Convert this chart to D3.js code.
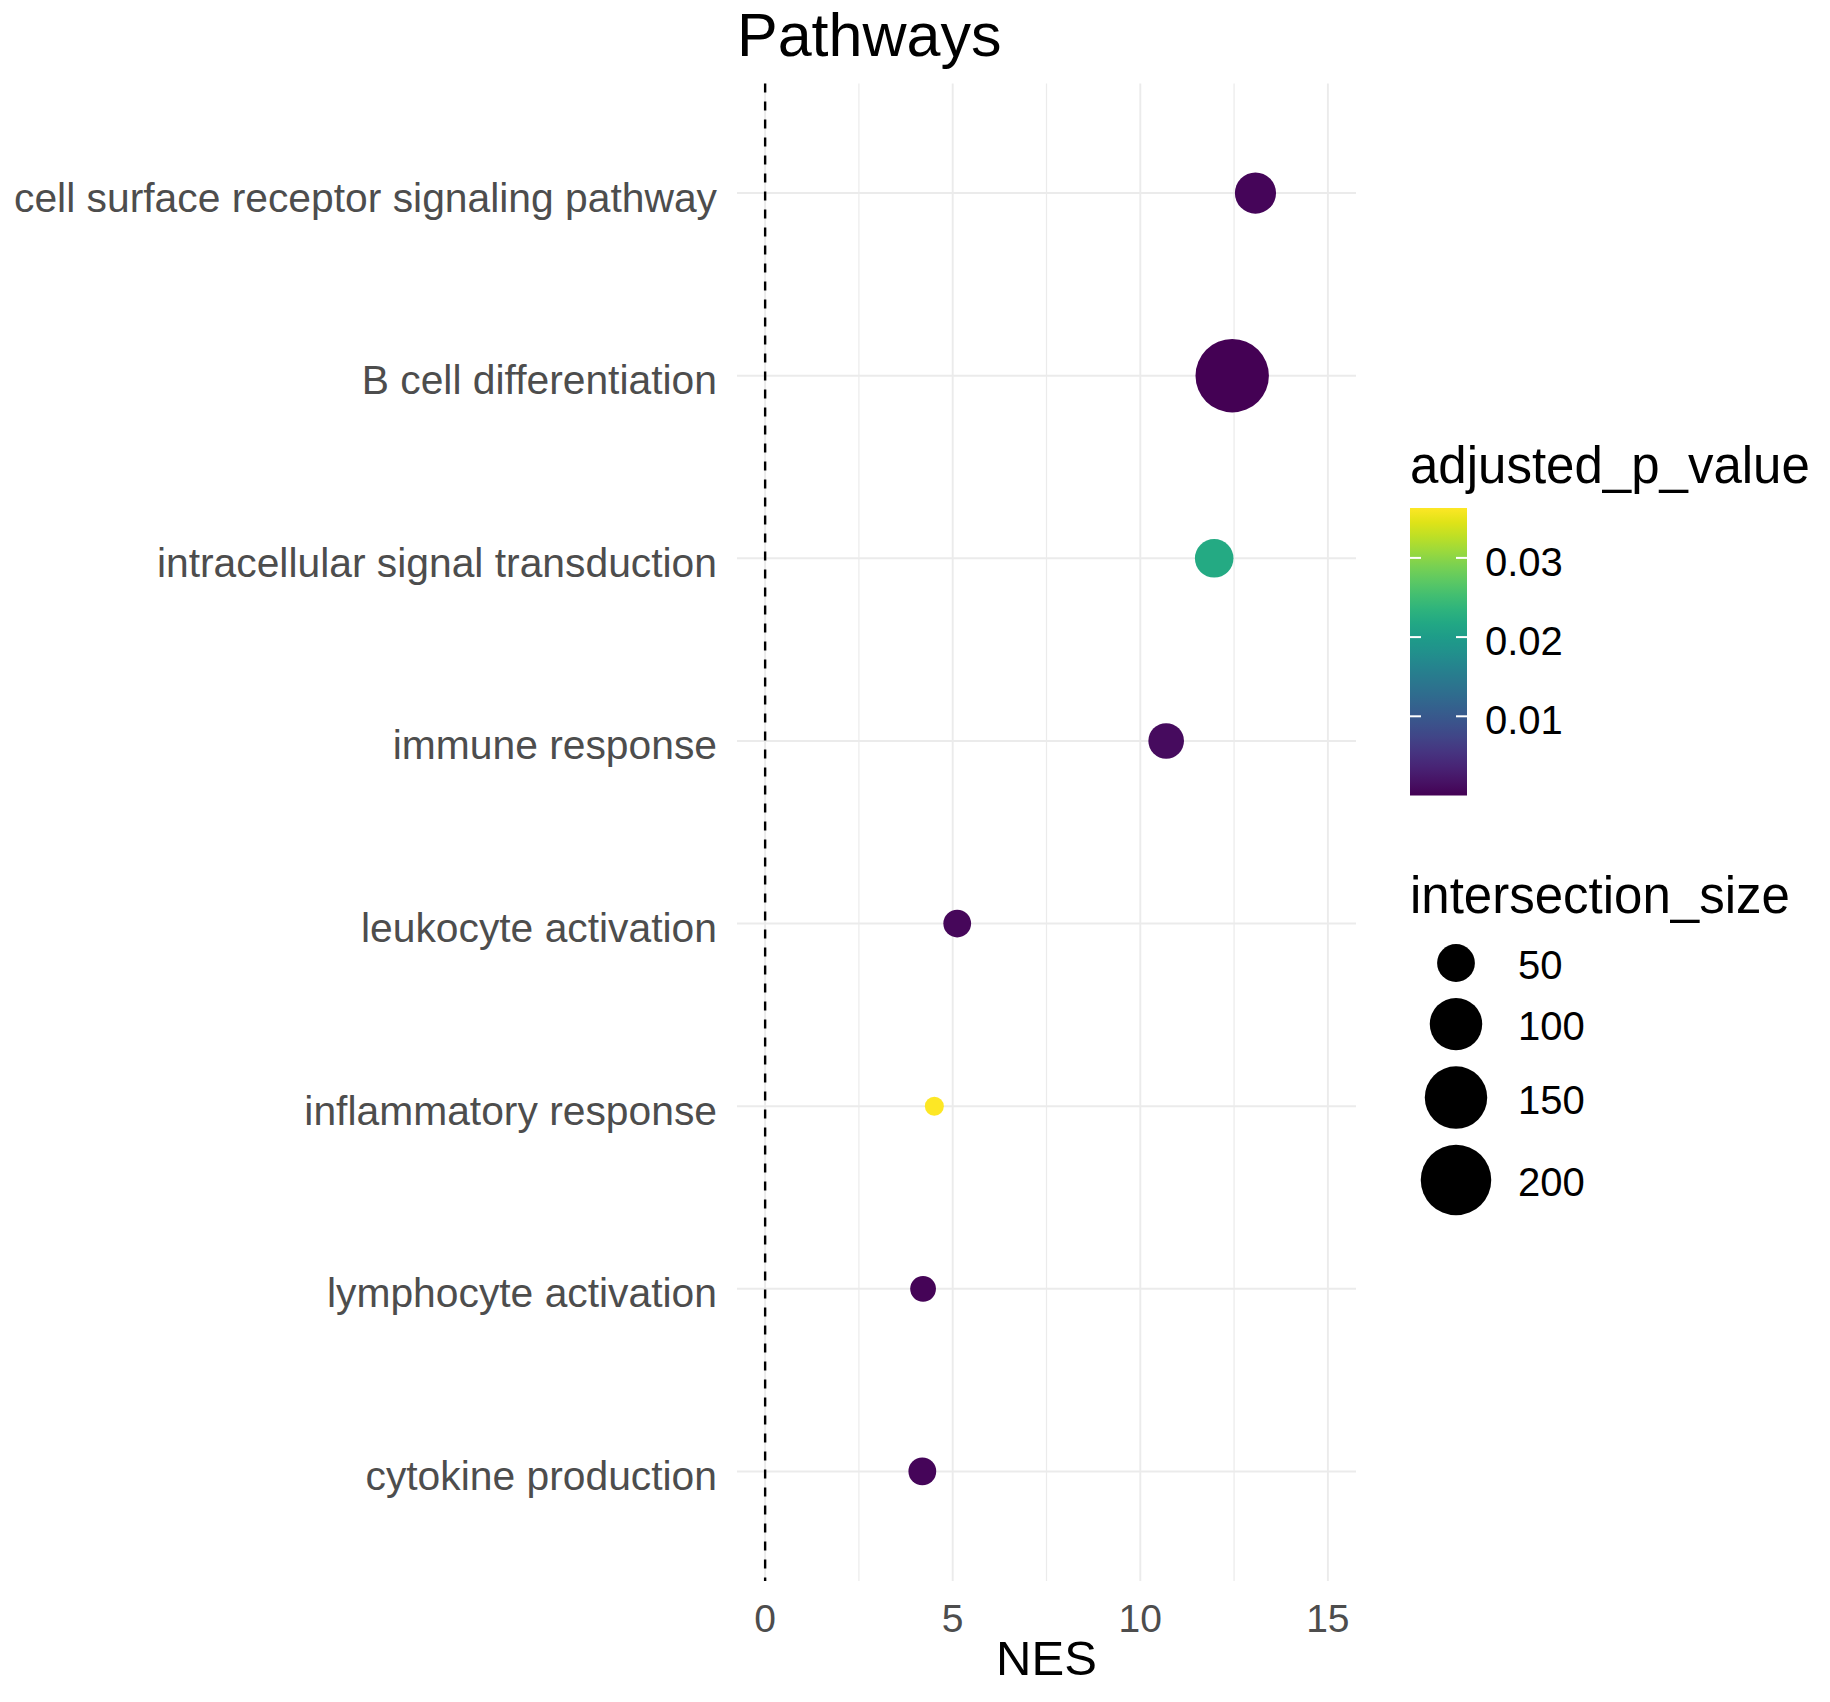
<!DOCTYPE html>
<html>
<head>
<meta charset="utf-8">
<script src="https://cdn.jsdelivr.net/npm/d3@7"></script>
<style>
	body { margin: 0; background: #ffffff; }
	svg { display: block; font-family: "Liberation Sans", Arial, sans-serif; }
</style>
</head>
<body>
<svg id="chart" width="1830" height="1702"></svg>
<script>
// pathways, top to bottom
const pathways = [
	"cell surface receptor signaling pathway",
	"B cell differentiation",
	"intracellular signal transduction",
	"immune response",
	"leukocyte activation",
	"inflammatory response",
	"lymphocyte activation",
	"cytokine production"
];
const nes = [13.07, 12.45, 11.97, 10.69, 5.12, 4.51, 4.21, 4.19];
const intersectionSize = [59, 220, 52, 45, 32, 27, 30, 32];
const adjustedPValue = [0.0005, 0.00001, 0.0221, 0.001, 0.0007, 0.0363, 0.0004, 0.0005];

const xTicks = [0, 5, 10, 15];
const xMinorTicks = [2.5, 7.5, 12.5];
const pTicks = [0.01, 0.02, 0.03];
const sizeBreaks = [50, 100, 150, 200];

function plot_dots(svg_id){
	const canvas = d3.select(svg_id);

	const panel = {left: 737, right: 1356, top: 83.5, bottom: 1581};
	const axisGrey = "#4d4d4d";
	const gridGrey = "#ebebeb";

	const data = pathways.map(function(p, i){
		return {pathway: p, nes: nes[i], size: intersectionSize[i], p: adjustedPValue[i]};
	});

	// ggplot style 5% expansion, the vline at 0 is part of the range
	const xScale = d3.scaleLinear()
		.domain([-0.75, 15.75])
		.range([panel.left, panel.right]);

	const yScale = d3.scalePoint()
		.domain(pathways)
		.range([panel.top, panel.bottom])
		.padding(0.6);

	const pMax = d3.max(adjustedPValue);
	const colorScale = d3.scaleSequential(d3.interpolateViridis)
		.domain([0, pMax]);

	const sizeMin = d3.min(intersectionSize);
	const sizeMax = d3.max(intersectionSize);
	const radiusBase = 9.5;
	const sizeScale = d3.scaleSqrt()
		.domain([0, sizeMax - sizeMin])
		.range([0, 27.2]);
	const radius = v => radiusBase + sizeScale(v - sizeMin);

	// grid
	const grid = canvas.append("g");
	grid.selectAll(".minor").data(xMinorTicks).enter()
		.append("line")
		.attr("x1", d => xScale(d)).attr("x2", d => xScale(d))
		.attr("y1", panel.top).attr("y2", panel.bottom)
		.attr("stroke", gridGrey).attr("stroke-width", 1.2);
	grid.selectAll(".major").data(xTicks).enter()
		.append("line")
		.attr("x1", d => xScale(d)).attr("x2", d => xScale(d))
		.attr("y1", panel.top).attr("y2", panel.bottom)
		.attr("stroke", gridGrey).attr("stroke-width", 1.9);
	grid.selectAll(".rows").data(pathways).enter()
		.append("line")
		.attr("x1", panel.left).attr("x2", panel.right)
		.attr("y1", d => yScale(d)).attr("y2", d => yScale(d))
		.attr("stroke", gridGrey).attr("stroke-width", 1.9);

	// dashed reference line at NES = 0
	canvas.append("line")
		.attr("x1", xScale(0)).attr("x2", xScale(0))
		.attr("y1", panel.top).attr("y2", panel.bottom)
		.attr("stroke", "#000000")
		.attr("stroke-width", 2.4)
		.attr("stroke-dasharray", "9,9");

	// points
	canvas.append("g")
		.selectAll("circle")
		.data(data)
		.enter()
		.append("circle")
		.attr("cx", d => xScale(d.nes))
		.attr("cy", d => yScale(d.pathway))
		.attr("r", d => radius(d.size))
		.attr("fill", d => colorScale(d.p));

	// y axis labels
	canvas.append("g")
		.selectAll("text")
		.data(pathways)
		.enter()
		.append("text")
		.attr("x", panel.left - 20)
		.attr("y", d => yScale(d) + 18.5)
		.attr("text-anchor", "end")
		.style("font-size", "40.8px")
		.style("fill", axisGrey)
		.text(d => d);

	// x axis labels
	canvas.append("g")
		.selectAll("text")
		.data(xTicks)
		.enter()
		.append("text")
		.attr("x", d => xScale(d))
		.attr("y", 1632)
		.attr("text-anchor", "middle")
		.style("font-size", "39px")
		.style("fill", axisGrey)
		.text(d => d);

	canvas.append("text")
		.attr("x", (panel.left + panel.right) / 2)
		.attr("y", 1675)
		.attr("text-anchor", "middle")
		.style("font-size", "49px")
		.style("fill", "#000000")
		.text("NES");

	canvas.append("text")
		.attr("x", panel.left)
		.attr("y", 56)
		.style("font-size", "61px")
		.style("fill", "#000000")
		.text("Pathways");

	// colour bar legend
	const bar = {x: 1410, width: 57, top: 508, bottom: 795.5};
	const barScale = d3.scaleLinear()
		.domain([0, pMax])
		.range([bar.bottom, bar.top]);

	canvas.append("text")
		.attr("x", 1410)
		.attr("y", 483)
		.style("font-size", "51px")
		.style("fill", "#000000")
		.text("adjusted_p_value");

	const defs = canvas.append("defs");
	const grad = defs.append("linearGradient")
		.attr("id", "viridis_grad")
		.attr("x1", "0").attr("y1", "1").attr("x2", "0").attr("y2", "0");
	grad.selectAll("stop")
		.data(d3.range(0, 1.0001, 0.05))
		.enter()
		.append("stop")
		.attr("offset", d => d)
		.attr("stop-color", d => d3.interpolateViridis(d));

	canvas.append("rect")
		.attr("x", bar.x)
		.attr("y", bar.top)
		.attr("width", bar.width)
		.attr("height", bar.bottom - bar.top)
		.attr("fill", "url(#viridis_grad)");

	const barTicks = canvas.append("g").selectAll("g").data(pTicks).enter().append("g");
	barTicks.append("line")
		.attr("x1", bar.x).attr("x2", bar.x + 11)
		.attr("y1", d => barScale(d)).attr("y2", d => barScale(d))
		.attr("stroke", "#ffffff").attr("stroke-width", 2);
	barTicks.append("line")
		.attr("x1", bar.x + bar.width - 11).attr("x2", bar.x + bar.width)
		.attr("y1", d => barScale(d)).attr("y2", d => barScale(d))
		.attr("stroke", "#ffffff").attr("stroke-width", 2);
	barTicks.append("text")
		.attr("x", 1485)
		.attr("y", d => barScale(d) + 18)
		.style("font-size", "40px")
		.style("fill", "#000000")
		.text(d => d.toFixed(2));

	// size legend
	canvas.append("text")
		.attr("x", 1410)
		.attr("y", 913)
		.style("font-size", "51px")
		.style("fill", "#000000")
		.text("intersection_size");

	let keyY = 963;
	const keys = sizeBreaks.map(function(b, i){
		const r = radius(b);
		if (i > 0) {
			const prev = radius(sizeBreaks[i - 1]);
			keyY += (2 * prev + 16 + 2 * r + 16) / 2;
		}
		return {value: b, r: r, y: keyY};
	});

	const key = canvas.append("g").selectAll("g").data(keys).enter().append("g");
	key.append("circle")
		.attr("cx", 1456)
		.attr("cy", d => d.y)
		.attr("r", d => d.r)
		.attr("fill", "#000000");
	key.append("text")
		.attr("x", 1518)
		.attr("y", d => d.y + 16)
		.style("font-size", "40px")
		.style("fill", "#000000")
		.text(d => d.value);
}

plot_dots("#chart");
</script>
</body>
</html>
